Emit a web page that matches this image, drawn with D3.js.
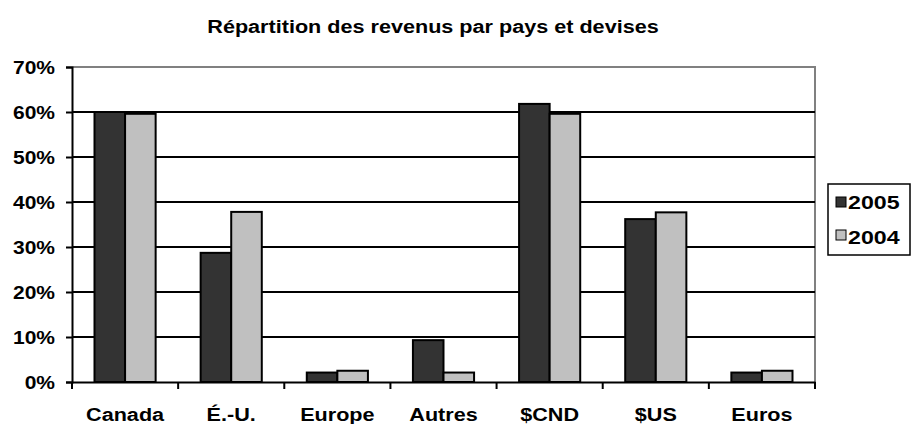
<!DOCTYPE html>
<html>
<head>
<meta charset="utf-8">
<script src="https://cdn.jsdelivr.net/npm/d3@7"></script>
<style>
  body { margin: 0; background: #fff; }
  svg { display: block; font-family: "Liberation Sans", Arial, sans-serif; font-weight: bold; }
</style>
</head>
<body>
<svg id="chart" width="912" height="424"></svg>
<script>
// données
var categories = ["Canada", "É.-U.", "Europe", "Autres", "$CND", "$US", "Euros"];
var series = ["2005", "2004"];
var values2005 = [0.600, 0.287, 0.021, 0.093, 0.618, 0.362, 0.021];
var values2004 = [0.596, 0.378, 0.025, 0.021, 0.596, 0.377, 0.025];
var yTicks = [0, 0.1, 0.2, 0.3, 0.4, 0.5, 0.6, 0.7];
var colors = {"2005": "#333333", "2004": "#c0c0c0"};

var svg = d3.select("#chart");
var margin = {left: 72, top: 67, right: 97, bottom: 42};
var width = 912 - margin.left - margin.right;
var height = 424 - margin.top - margin.bottom;

// le texte de l'original est un peu étiré en largeur
function stretch(sel, k) {
    sel.each(function() {
        var l = this.getComputedTextLength();
        d3.select(this).attr("textLength", l * k).attr("lengthAdjust", "spacingAndGlyphs");
    });
}

var g = svg.append("g")
    .attr("transform", "translate(" + margin.left + "," + margin.top + ")");

var x = d3.scaleBand().domain(categories).range([0, width]).paddingInner(0).paddingOuter(0);
var x1 = d3.scaleBand().domain(series).range([22.5, x.bandwidth() - 22.5]);
var y = d3.scaleLinear().domain([0, 0.7]).range([height, 0]);

// titre
svg.append("text")
    .attr("x", 433).attr("y", 33)
    .attr("text-anchor", "middle")
    .style("font-size", "18px")
    .text("Répartition des revenus par pays et devises")
    .call(stretch, 1.2);

// cadre gris (haut + droite)
g.append("path")
    .attr("d", "M0,0H" + width + "V" + height)
    .attr("fill", "none").attr("stroke", "#808080").attr("stroke-width", 2);

// grille
g.selectAll(".grid").data(yTicks.slice(1, -1)).enter().append("line")
    .attr("x1", 0).attr("x2", width)
    .attr("y1", function(d) { return y(d); }).attr("y2", function(d) { return y(d); })
    .attr("stroke", "#000").attr("stroke-width", 2);

// barres
var rows = categories.map(function(c, i) { return {cat: c, v: {"2005": values2005[i], "2004": values2004[i]}}; });
var grp = g.selectAll(".grp").data(rows).enter().append("g")
    .attr("transform", function(d) { return "translate(" + x(d.cat) + ",0)"; });
grp.selectAll("rect").data(function(d) { return series.map(function(s) { return {s: s, v: d.v[s]}; }); })
    .enter().append("rect")
    .attr("x", function(d) { return x1(d.s); })
    .attr("width", x1.bandwidth())
    .attr("y", function(d) { return y(d.v); })
    .attr("height", function(d) { return height - y(d.v); })
    .attr("fill", function(d) { return colors[d.s]; })
    .attr("stroke", "#000").attr("stroke-width", 2);

// axe y
var yAxis = d3.axisLeft(y).tickValues(yTicks).tickFormat(d3.format(".0%")).tickSize(6).tickPadding(11);
var ya = g.append("g").call(yAxis);
ya.select(".domain").attr("stroke-width", 2);
ya.selectAll(".tick line").attr("stroke-width", 2);
ya.selectAll("text")
    .style("font-size", "17.5px").style("font-family", "Liberation Sans, Arial, sans-serif").style("font-weight", "bold")
    .attr("fill", "#000").attr("dy", "0.38em")
    .call(stretch, 1.2);

// axe x
var xa = g.append("g").attr("transform", "translate(0," + height + ")")
    .call(d3.axisBottom(x).tickSize(0));
xa.select(".domain").attr("stroke-width", 2);
xa.selectAll("text")
    .style("font-size", "18px").style("font-family", "Liberation Sans, Arial, sans-serif").style("font-weight", "bold")
    .attr("fill", "#000").attr("y", 39).attr("dy", 0)
    .call(stretch, 1.2);
xa.selectAll(".sep").data(d3.range(categories.length + 1)).enter().append("line")
    .attr("x1", function(i) { return i * x.step(); }).attr("x2", function(i) { return i * x.step(); })
    .attr("y1", 0).attr("y2", 7)
    .attr("stroke", "#000").attr("stroke-width", 2);

// légende
var leg = svg.append("g").attr("transform", "translate(828,184)");
leg.append("rect").attr("width", 82).attr("height", 71)
    .attr("fill", "#fff").attr("stroke", "#000").attr("stroke-width", 1.5);
series.forEach(function(s, i) {
    leg.append("rect").attr("x", 8).attr("y", 13 + i * 33).attr("width", 10).attr("height", 10)
        .attr("fill", colors[s]).attr("stroke", "#000").attr("stroke-width", 1);
    leg.append("text").attr("x", 20).attr("y", 25 + i * 35)
        .style("font-size", "19px").text(s)
        .call(stretch, 1.22);
});
</script>
</body>
</html>
